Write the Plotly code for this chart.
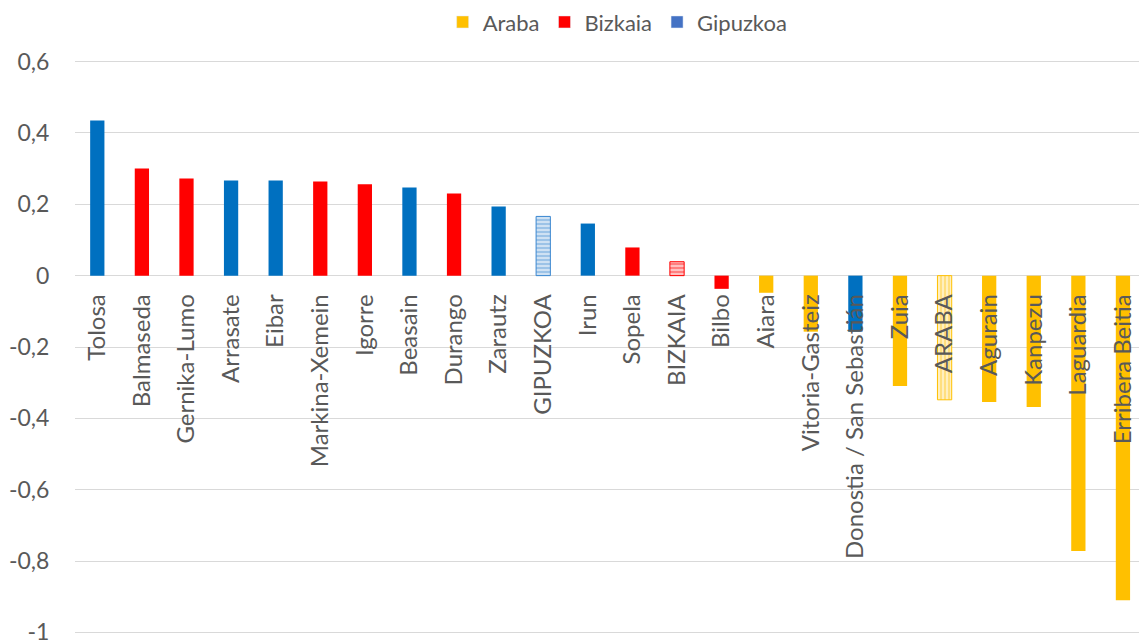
import plotly.graph_objects as go

categories = ["Tolosa", "Balmaseda", "Gernika-Lumo", "Arrasate", "Eibar", "Markina-Xemein",
              "Igorre", "Beasain", "Durango", "Zarautz", "GIPUZKOA", "Irun", "Sopela",
              "BIZKAIA", "Bilbo", "Aiara", "Vitoria-Gasteiz", "Donostia / San Sebastián",
              "Zuia", "ARABA", "Agurain", "Kanpezu", "Laguardia", "Erribera Beitia"]
values = [0.435, 0.30, 0.272, 0.267, 0.267, 0.264, 0.256, 0.247, 0.23, 0.194, 0.166, 0.146,
          0.079, 0.039, -0.037, -0.048, -0.157, -0.157, -0.309, -0.348, -0.354, -0.368,
          -0.772, -0.91]
province = ["Gipuzkoa", "Bizkaia", "Bizkaia", "Gipuzkoa", "Gipuzkoa", "Bizkaia", "Bizkaia",
            "Gipuzkoa", "Bizkaia", "Gipuzkoa", "Gipuzkoa", "Gipuzkoa", "Bizkaia", "Bizkaia",
            "Bizkaia", "Araba", "Araba", "Gipuzkoa", "Araba", "Araba", "Araba", "Araba",
            "Araba", "Araba"]
totals = ["GIPUZKOA", "BIZKAIA", "ARABA"]

legend_names = ["Araba", "Bizkaia", "Gipuzkoa"]
legend_colors = ["#FFC000", "#FF0000", "#4472C4"]
bar_colors = {"Araba": "#FFC000", "Bizkaia": "#FF0000", "Gipuzkoa": "#0070C0"}
total_colors = {"Araba": "#FFC000", "Bizkaia": "#FF0000", "Gipuzkoa": "#3A87D0"}
total_shapes = {"Araba": "|", "Bizkaia": "-", "Gipuzkoa": "-"}

ytickvals = [0.6, 0.4, 0.2, 0, -0.2, -0.4, -0.6, -0.8, -1]
yticktext = ["0,6", "0,4", "0,2", "0", "-0,2", "-0,4", "-0,6", "-0,8", "-1"]

FONT = "Lato, Open Sans, sans-serif"
YMIN, YMAX = -1.01, 0.61

fig = go.Figure()

# regular bars
rx, ry, rc = [], [], []
for c, v, p in zip(categories, values, province):
    if c not in totals:
        rx.append(c)
        ry.append(v)
        rc.append(bar_colors[p])
fig.add_trace(go.Bar(x=rx, y=ry, showlegend=False, width=0.32,
                     marker=dict(color=rc, line=dict(width=0))))

# patterned total bars
for c, v, p in zip(categories, values, province):
    if c in totals:
        col = total_colors[p]
        fig.add_trace(go.Bar(
            x=[c], y=[v], showlegend=False, width=0.32,
            marker=dict(color="white", line=dict(color=col, width=1),
                        pattern=dict(shape=total_shapes[p], fgcolor=col, bgcolor="white",
                                     fillmode="overlay", size=4, solidity=0.75)),
        ))

for n, c in zip(legend_names, legend_colors):
    fig.add_trace(go.Bar(x=[None], y=[None], name=n, marker_color=c, showlegend=True))

fig.update_layout(
    width=1139, height=644,
    margin=dict(l=75, r=0, t=58, b=8),
    paper_bgcolor="white", plot_bgcolor="white",
    font=dict(family=FONT, color="#595959", size=22),
    barmode="overlay",
    legend=dict(orientation="h", x=0.51, xanchor="center", y=1.062, yanchor="middle",
                font=dict(family=FONT, size=22, color="#595959"), itemwidth=30),
    xaxis=dict(type="category", categoryorder="array", categoryarray=categories,
               tickangle=-90, anchor="free", position=(0 - YMIN) / (YMAX - YMIN),
               showgrid=False, showline=False, ticks="outside", ticklen=8,
               tickcolor="rgba(0,0,0,0)",
               tickfont=dict(family=FONT, size=24, color="#595959"), range=[-0.5, 23.36]),
    yaxis=dict(range=[YMIN, YMAX], tickvals=ytickvals, ticktext=yticktext,
               showgrid=True, gridcolor="#D9D9D9", gridwidth=1,
               zeroline=True, zerolinecolor="#D9D9D9", zerolinewidth=1,
               ticks="outside", ticklen=20, tickcolor="rgba(0,0,0,0)",
               ticklabeloverflow="allow",
               tickfont=dict(family=FONT, size=23, color="#595959")),
)

fig.write_html("out.html", config={"displayModeBar": False},
               post_script="document.body.style.margin='0px';")
